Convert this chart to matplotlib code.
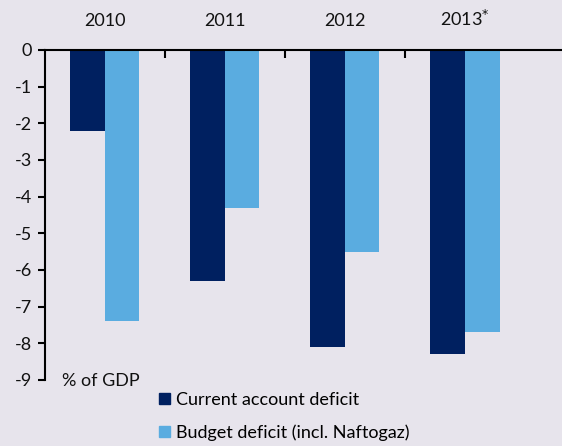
import numpy as np
import matplotlib.pyplot as plt
from matplotlib.patches import Patch

plt.rcParams['font.family'] = ['Lato', 'DejaVu Sans']

# data (% of GDP)
years = ['2010', '2011', '2012', '2013']
current_account = [-2.2, -6.3, -8.1, -8.3]
budget = [-7.4, -4.3, -5.5, -7.7]

bg = '#E7E4EC'
dark = '#002060'
light = '#5AACE0'

fig = plt.figure(figsize=(5.62, 4.46), dpi=100, facecolor=bg)
ax = fig.add_axes([44.5 / 562, 1 - 380 / 446, 1 - 44.5 / 562, 330 / 446])
ax.set_facecolor(bg)

x = np.arange(len(years))
w = 0.29
ax.bar(x - w / 2, current_account, w, color=dark, label='Current account deficit')
ax.bar(x + w / 2, budget, w, color=light, label='Budget deficit (incl. Naftogaz)')

ax.set_xlim(-0.5, 3.81)
ax.set_ylim(-9, 0)
ax.set_yticks(range(-9, 1))
ax.set_yticklabels([str(v) for v in range(-9, 1)], fontsize=13, color='#111111')
ax.tick_params(axis='y', direction='out', length=5, width=1.5, pad=4)

for s in ['right', 'bottom']:
    ax.spines[s].set_visible(False)
ax.spines['left'].set_linewidth(1.5)
ax.spines['top'].set_linewidth(1.5)

# year labels above the zero line, ticks between groups
ax.xaxis.set_ticks_position('top')
ax.set_xticks(x)
ax.set_xticklabels(years[:3] + ['2013$^{*}$'], fontsize=13, color='#111111')
for lab in ax.get_xticklabels():
    lab.set_verticalalignment('baseline')
ax.set_xticks(x[:-1] + 0.5, minor=True)
ax.tick_params(axis='x', which='major', length=0, pad=17)
ax.tick_params(axis='x', which='minor', direction='in', length=6, width=1.5)

ax.text(62, 446 - 381, '% of GDP', transform=None, fontsize=13, va='center', color='#111111')

handles = [Patch(color=dark), Patch(color=light)]
fig.legend(handles, ['Current account deficit', 'Budget deficit (incl. Naftogaz)'],
           loc='upper left', bbox_to_anchor=(159 / 562, 1 - 392 / 446), frameon=False,
           fontsize=13, handlelength=0.62, handleheight=0.62, handletextpad=0.3,
           labelspacing=0.9, borderpad=0, borderaxespad=0)

fig.savefig('out.png', dpi=100, facecolor=bg)
